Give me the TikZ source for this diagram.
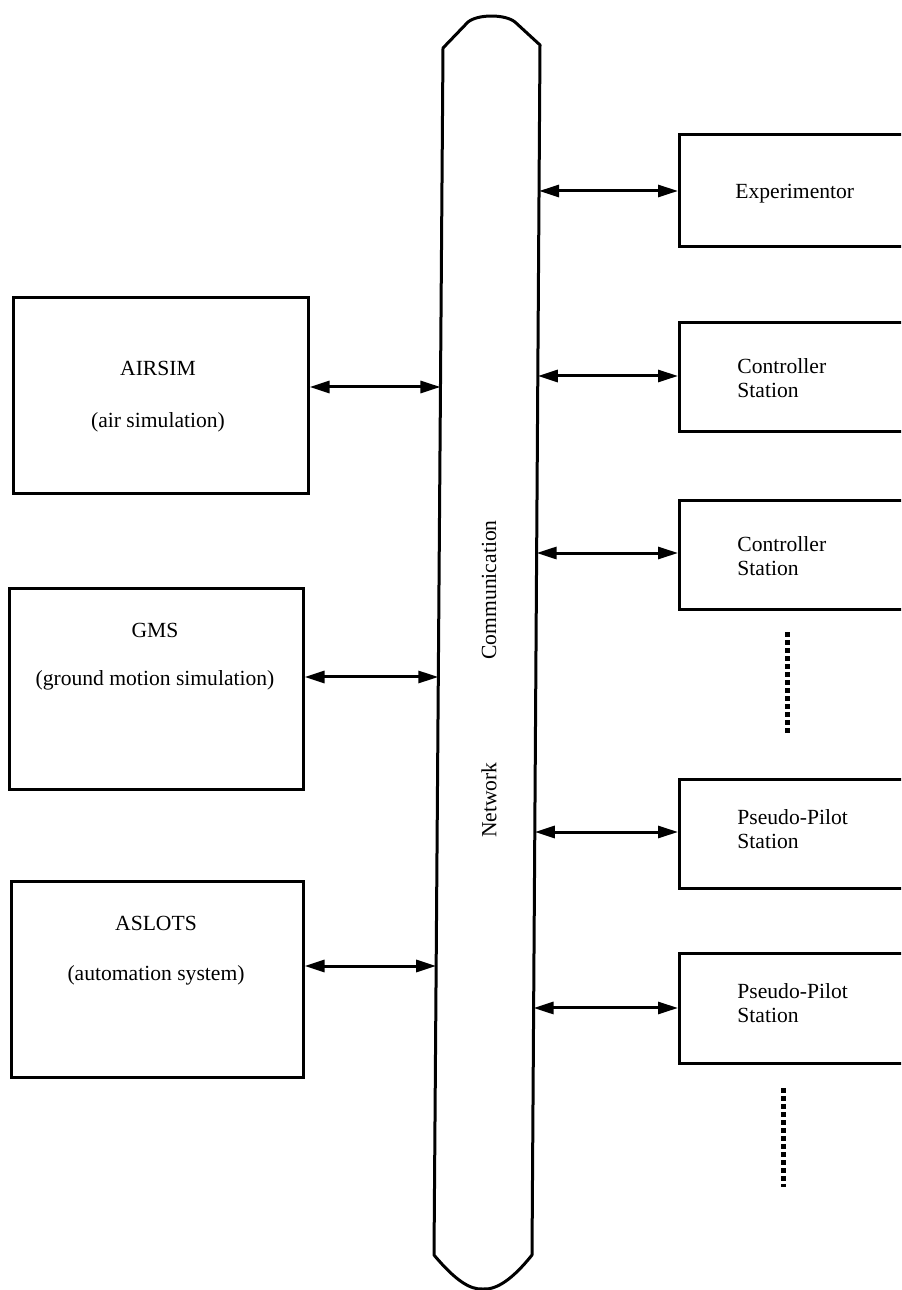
\documentclass[tikz,border=0pt]{standalone}
\usepackage{fontspec}
\setmainfont{Liberation Serif}
\usetikzlibrary{arrows.meta,calc}
\begin{document}
\begin{tikzpicture}[x=0.5pt,y=-0.5pt,
  box/.style={draw, line width=1.3pt, rectangle, inner sep=0pt, anchor=north west},
  conn/.style={line width=1.5pt,
    {Triangle[length=10pt,width=6pt]}-{Triangle[length=10pt,width=6pt]}},
  buswall/.style={line width=1.5pt, line join=round},
  lbl/.style={font=\fontsize{10.8pt}{12pt}\selectfont, inner sep=0pt, anchor=base},
  rlbl/.style={font=\fontsize{10.8pt}{12pt}\selectfont, inner sep=0pt, anchor=base west},
  dotcol/.style={line width=2.5pt, dash pattern=on 2.5pt off 1.5pt}]
\useasboundingbox (0,0) rectangle (901,1290);
\clip (0,0) rectangle (901,1290);

% communication network bus
\coordinate (blt) at (443,48);
\coordinate (blb) at (434,1255);
\coordinate (brt) at (540,45);
\coordinate (brb) at (532,1255);
\draw[buswall] (blt) -- (468,22) .. controls (478,14) and (505,14) .. (515,22) -- (brt)
  -- (brb) .. controls (512,1280) and (496,1290) .. (483,1289)
  .. controls (470,1290) and (455,1280) .. (blb) -- cycle;
\node[lbl, anchor=center, rotate=90] (comm) at (489,590) {Communication};
\node[lbl, anchor=center, rotate=90] (net) at (489,800) {Network};

% attachment points on the bus walls
\coordinate (L1) at ($(blt)!{(387-48)/1207}!(blb)$);
\coordinate (L2) at ($(blt)!{(677-48)/1207}!(blb)$);
\coordinate (L3) at ($(blt)!{(966-48)/1207}!(blb)$);
\coordinate (R1) at ($(brt)!{(191-45)/1210}!(brb)$);
\coordinate (R2) at ($(brt)!{(376-45)/1210}!(brb)$);
\coordinate (R3) at ($(brt)!{(553-45)/1210}!(brb)$);
\coordinate (R4) at ($(brt)!{(832-45)/1210}!(brb)$);
\coordinate (R5) at ($(brt)!{(1008-45)/1210}!(brb)$);

% simulation subsystems
\node[box, minimum width=147.5pt, minimum height=98pt] (airsim) at (12,296) {};
\node[lbl] (airsimA) at (158,375) {AIRSIM};
\node[lbl] (airsimB) at (158,427) {(air simulation)};

\node[box, minimum width=147pt, minimum height=100.5pt] (gms) at (8,587) {};
\node[lbl] (gmsA) at (155,637) {GMS};
\node[lbl] (gmsB) at (155,685) {(ground motion simulation)};

\node[box, minimum width=146pt, minimum height=98pt] (aslots) at (10,880) {};
\node[lbl] (aslotsA) at (156,930) {ASLOTS};
\node[lbl] (aslotsB) at (156,980) {(automation system)};

% stations
\node[box, minimum width=120pt, minimum height=56pt] (exp) at (678,133) {};
\node[rlbl] (expA) at (735,198) {Experimentor};

\node[box, minimum width=120pt, minimum height=54.5pt] (ctl1) at (678,321) {};
\node[rlbl] (ctl1A) at (737,373) {Controller};
\node[rlbl] (ctl1B) at (737,397) {Station};

\node[box, minimum width=120pt, minimum height=54.5pt] (ctl2) at (678,499) {};
\node[rlbl] (ctl2A) at (737,551) {Controller};
\node[rlbl] (ctl2B) at (737,575) {Station};

\node[box, minimum width=120pt, minimum height=54.5pt] (pp1) at (678,778) {};
\node[rlbl] (pp1A) at (737,824) {Pseudo-Pilot};
\node[rlbl] (pp1B) at (737,848) {Station};

\node[box, minimum width=120pt, minimum height=55pt] (pp2) at (678,952) {};
\node[rlbl] (pp2A) at (737,998) {Pseudo-Pilot};
\node[rlbl] (pp2B) at (737,1022) {Station};

% further stations elided
\coordinate (d1a) at (787,632);
\coordinate (d1b) at (787,733);
\coordinate (d2a) at (783,1088);
\coordinate (d2b) at (783,1187);
\draw[dotcol] (d1a) -- (d1b);
\draw[dotcol] (d2a) -- (d2b);

% links to the network
\draw[conn] (airsim.east |- L1) -- (L1);
\draw[conn] (gms.east |- L2) -- (L2);
\draw[conn] (aslots.east |- L3) -- (L3);
\draw[conn] (R1) -- (R1 -| exp.west);
\draw[conn] (R2) -- (R2 -| ctl1.west);
\draw[conn] (R3) -- (R3 -| ctl2.west);
\draw[conn] (R4) -- (R4 -| pp1.west);
\draw[conn] (R5) -- (R5 -| pp2.west);
\end{tikzpicture}
\end{document}
